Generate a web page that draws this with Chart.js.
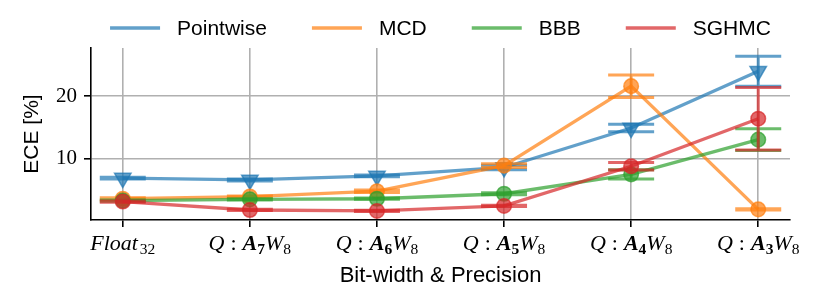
<!DOCTYPE html>
<html>
<head>
<meta charset="utf-8">
<script src="https://cdn.jsdelivr.net/npm/chart.js@4.4.1/dist/chart.umd.min.js"></script>
<style>
  html, body { margin: 0; padding: 0; background: #fff; }
  #wrap { width: 830px; height: 291px; }
</style>
</head>
<body>
<div id="wrap"><canvas id="ece-chart" width="830" height="291"></canvas></div>
<script>
// categories: Float32 then Q:A{n}W8
const categories = ['Float32', 'Q:A7W8', 'Q:A6W8', 'Q:A5W8', 'Q:A4W8', 'Q:A3W8'];

const pointwiseEce = [6.9, 6.6, 7.25, 8.6, 14.9, 24.0];
const pointwiseErr = [0.15, 0.15, 0.15, 0.35, 0.6, 2.4];
const mcdEce = [3.6, 3.95, 4.8, 8.9, 21.6, 1.9];
const mcdErr = [0.15, 0.1, 0.2, 0.3, 1.8, 0.1];
const bbbEce = [3.3, 3.5, 3.6, 4.4, 7.5, 13.05];
const bbbErr = [0.1, 0.1, 0.1, 0.15, 0.75, 1.75];
const sghmcEce = [3.15, 1.8, 1.65, 2.45, 8.8, 16.4];
const sghmcErr = [0.1, 0.1, 0.1, 0.1, 0.6, 5.0];

const yTicks = [10, 20];

const SANS = '"Liberation Sans", Arial, sans-serif';
const SERIF = '"Liberation Serif", "Times New Roman", serif';

function toPoints(values)
{
    return values.map( (v, i) => ({ x: i, y: v }) );
}

function makeDataset(label, rgb, values, errors, pointStyle, radius, order)
{
    const color = 'rgba(' + rgb + ',0.7)';
    return {
        label: label,
        data: toPoints(values),
        errors: errors,
        borderColor: color,
        backgroundColor: color,
        pointBackgroundColor: color,
        pointBorderColor: color,
        borderWidth: 3.3,
        pointRadius: radius,
        pointBorderWidth: 1.5,
        pointStyle: pointStyle,
        pointRotation: pointStyle === 'triangle' ? 180 : 0,
        tension: 0,
        order: order,
    };
}

// vertical error bars with caps, drawn just under each dataset's line
const errorBars = {
    id: 'errorBars',
    beforeDatasetDraw(chart, args) {
        const ds = chart.data.datasets[args.index];
        const xs = chart.scales.x, ys = chart.scales.y;
        const ctx = chart.ctx;
        ctx.save();
        ctx.strokeStyle = ds.borderColor;
        ctx.lineWidth = 3;
        ds.data.forEach( (p, i) => {
            const e = ds.errors[i];
            const px = xs.getPixelForValue(p.x);
            const top = ys.getPixelForValue(p.y + e);
            const bot = ys.getPixelForValue(p.y - e);
            ctx.beginPath();
            ctx.moveTo(px, top); ctx.lineTo(px, bot);
            ctx.moveTo(px - 23, top); ctx.lineTo(px + 23, top);
            ctx.moveTo(px - 23, bot); ctx.lineTo(px + 23, bot);
            ctx.stroke();
        } );
        ctx.restore();
    }
};

// tick labels in math style: Float_{32}, Q : A_n W_8
function mathParts(label)
{
    if( label === 'Float32' )
        return [ ['Float', 'i'], ['32', 'sub'] ];
    const m = label.match(/Q:A(\d)W(\d)/);
    return [ ['Q', 'i'], [':', 'colon'], ['A', 'bi'], [m[1], 'bsub'], ['W', 'i'], [m[2], 'sub'] ];
}

function partFont(kind)
{
    if( kind === 'i' ) return 'italic 22px ' + SERIF;
    if( kind === 'bi' ) return 'italic bold 22px ' + SERIF;
    if( kind === 'sub' ) return '15.5px ' + SERIF;
    if( kind === 'bsub' ) return 'bold 15.5px ' + SERIF;
    return '22px ' + SERIF;
}

function partWidth(ctx, p)
{
    ctx.font = partFont(p[1]);
    const w = ctx.measureText(p[0]).width;
    return p[1] === 'colon' ? w + 12 : w + (p[1] === 'i' && p[0] === 'Float' ? 2 : 0);
}

const mathTicks = {
    id: 'mathTicks',
    afterDraw(chart) {
        const ctx = chart.ctx;
        const xs = chart.scales.x;
        ctx.save();
        ctx.fillStyle = '#000';
        ctx.textBaseline = 'alphabetic';
        categories.forEach( (label, i) => {
            const parts = mathParts(label);
            let total = 0;
            parts.forEach( p => { total += partWidth(ctx, p); } );
            let x = xs.getPixelForValue(i) - total / 2;
            parts.forEach( p => {
                ctx.font = partFont(p[1]);
                const dy = p[1].indexOf('sub') >= 0 ? 4 : 0;
                const dx = p[1] === 'colon' ? 6 : 0;
                ctx.fillText(p[0], x + dx, 250 + dy);
                x += partWidth(ctx, p);
            } );
        } );
        ctx.restore();
    }
};

// legend: short line + label, centered over the plot
const lineLegend = {
    id: 'lineLegend',
    afterDraw(chart) {
        const ctx = chart.ctx;
        const area = chart.chartArea;
        const lineLen = 50, textGap = 17, itemGap = 45, y = 28;
        ctx.save();
        ctx.font = '21px ' + SANS;
        const items = chart.data.datasets.map( ds => ({ ds: ds, w: ctx.measureText(ds.label).width }) );
        let total = 0;
        items.forEach( (it, i) => { total += lineLen + textGap + it.w + (i < items.length - 1 ? itemGap : 0); } );
        let x = (area.left + area.right) / 2 - total / 2;
        ctx.textBaseline = 'middle';
        items.forEach( it => {
            ctx.strokeStyle = it.ds.borderColor;
            ctx.lineWidth = 3.3;
            ctx.beginPath();
            ctx.moveTo(x, y); ctx.lineTo(x + lineLen, y);
            ctx.stroke();
            ctx.fillStyle = '#000';
            ctx.fillText(it.ds.label, x + lineLen + textGap, y + 1);
            x += lineLen + textGap + it.w + itemGap;
        } );
        ctx.restore();
    }
};

document.addEventListener('DOMContentLoaded', function(){

    Chart.defaults.font.family = SANS;
    Chart.defaults.font.size = 20;
    Chart.defaults.color = '#000';

    const datasets = [
        makeDataset('Pointwise', '31,119,180', pointwiseEce, pointwiseErr, 'triangle', 9.5, 3),
        makeDataset('MCD', '255,127,14', mcdEce, mcdErr, 'circle', 7.3, 2),
        makeDataset('BBB', '44,160,44', bbbEce, bbbErr, 'circle', 7.3, 1),
        makeDataset('SGHMC', '214,39,40', sghmcEce, sghmcErr, 'circle', 7.3, 0),
    ];

    const ctx = document.getElementById('ece-chart').getContext('2d');
    new Chart( ctx, {
        type: 'line',
        data: { datasets },
        options: {
            responsive: false,
            animation: false,
            devicePixelRatio: 1,
            layout: { padding: { top: 48, right: 40, left: 0, bottom: 0 } },
            plugins: {
                legend: { display: false },
                tooltip: { enabled: false },
            },
            scales: {
                x: {
                    type: 'linear',
                    min: -0.25,
                    max: 5.25,
                    afterBuildTicks: (scale) => { scale.ticks = categories.map( (c, i) => ({ value: i }) ); },
                    afterFit: (scale) => { scale.height = 71; },
                    ticks: { display: false },
                    grid: { color: '#b0b0b0', lineWidth: 1.6, tickColor: '#000', tickLength: 7, tickWidth: 1.6 },
                    border: { color: '#000', width: 1.6 },
                    title: {
                        display: true,
                        text: 'Bit-width & Precision',
                        font: { family: SANS, size: 22 },
                        padding: { top: 0, bottom: 2 },
                    },
                },
                y: {
                    min: 0.2,
                    max: 27.7,
                    afterBuildTicks: (scale) => { scale.ticks = yTicks.map( v => ({ value: v }) ); },
                    afterFit: (scale) => { scale.width = 91; },
                    ticks: { font: { family: SERIF, size: 21 }, padding: 7 },
                    grid: { color: '#b0b0b0', lineWidth: 1.6, tickColor: '#000', tickLength: 7, tickWidth: 1.6 },
                    border: { color: '#000', width: 1.6 },
                    title: {
                        display: true,
                        text: 'ECE [%]',
                        font: { family: SANS, size: 21 },
                        padding: { top: 20, bottom: 0 },
                    },
                },
            },
        },
        plugins: [errorBars, mathTicks, lineLegend],
    });

});
</script>
</body>
</html>
